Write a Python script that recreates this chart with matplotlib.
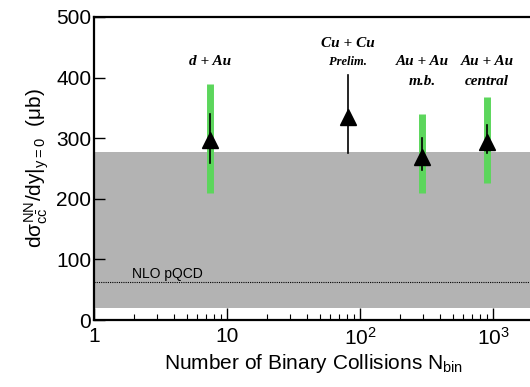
import matplotlib
matplotlib.use("Agg")
import matplotlib.pyplot as plt
import numpy as np
from matplotlib.ticker import LogLocator, FixedLocator, NullFormatter

plt.rcParams['font.family'] = ['Liberation Sans', 'DejaVu Sans']
plt.rcParams['mathtext.fontset'] = 'custom'
plt.rcParams['mathtext.rm'] = 'Liberation Sans'
plt.rcParams['mathtext.it'] = 'Liberation Sans'

# data
systems = ["d + Au", "Cu + Cu\nPrelim.", "Au + Au\nm.b.", "Au + Au\ncentral"]
ncoll = [7.5, 81, 292, 900]
sigma = [297, 335, 269, 294]
stat_lo = [259, 276, 248, 275]
stat_hi = [340, 404, 300, 322]
sys_lo = [210, None, 210, 226]
sys_hi = [390, None, 340, 368]
label_y = [426, 457, 426, 426]

band_lo, band_hi = 20, 277
nlo_value = 62

fig = plt.figure(figsize=(5.30, 3.87), dpi=100)
ax = fig.add_axes([94/530, 67/387, 439/530, 303/387])

ax.set_xscale('log')
ax.set_xlim(1, 2000)
ax.set_ylim(0, 500)

# gray band and NLO line
ax.fill_between([1.02, 2000], band_lo, band_hi, color='#b3b3b3', lw=0, zorder=1)
ax.plot([1, 2000], [nlo_value, nlo_value], ls=(0, (1, 1)), color='black', lw=0.8, zorder=2)
ax.text(1.93, nlo_value + 2, "NLO pQCD", fontsize=10, va='bottom', ha='left', zorder=3)

for i in range(len(ncoll)):
    if sys_lo[i] is not None:
        ax.plot([ncoll[i], ncoll[i]], [sys_lo[i], sys_hi[i]], color='#5cd65c', lw=5,
                solid_capstyle='butt', zorder=3)
    ax.plot([ncoll[i], ncoll[i]], [stat_lo[i], stat_hi[i]], color='black', lw=1.2, zorder=4)
    ax.plot(ncoll[i], sigma[i], marker='^', color='black', markersize=12, zorder=5)
    lines = systems[i].split("\n")
    ax.text(ncoll[i], label_y[i], lines[0], ha='center', va='center', fontsize=11,
            family='Liberation Serif', weight='bold', style='italic')
    if len(lines) > 1:
        fs = 9 if lines[1] == "Prelim." else 11
        ax.text(ncoll[i], label_y[i] - 32, lines[1], ha='center', va='center', fontsize=fs,
                family='Liberation Serif', weight='bold', style='italic')

ax.xaxis.set_major_locator(FixedLocator([1, 10, 100, 1000]))
ax.set_xticklabels(["1", "10", "$10^2$", "$10^3$"])
ax.xaxis.set_minor_locator(LogLocator(base=10, subs=np.arange(2, 10)))
ax.xaxis.set_minor_formatter(NullFormatter())
ax.set_yticks([0, 100, 200, 300, 400, 500])

ax.tick_params(axis='both', which='major', direction='in', length=8, width=1, labelsize=15)
ax.tick_params(axis='x', which='minor', direction='in', length=4, width=0.8)
ax.tick_params(axis='x', which='major', length=9, pad=5)
ax.tick_params(axis='y', which='major', pad=2)

for s in ax.spines.values():
    s.set_linewidth(1.6)

ax.set_xlabel("Number of Binary Collisions N$_{\\rm bin}$", fontsize=15, labelpad=2)
ax.set_ylabel("d$\\sigma^{\\rm NN}_{\\rm c\\bar{c}}$/dy$|_{\\rm y=0}$  ($\\mu$b)", fontsize=15,
              labelpad=4)

fig.savefig("out.png", dpi=100)
